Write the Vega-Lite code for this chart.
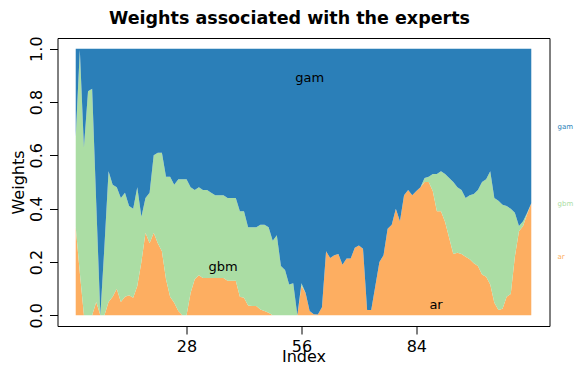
{
  "$schema": "https://vega.github.io/schema/vega-lite/v6.json",
  "width": 492,
  "height": 288,
  "autosize": {"type": "none"},
  "padding": {"left": 57.5, "top": 38, "right": 26.5, "bottom": 58},
  "config": {"view": {"stroke": "black", "strokeWidth": 1}, "font": "DejaVu Sans"},
  "title": {"text": "Weights associated with the experts", "fontSize": 17.5, "fontWeight": "bold", "font": "DejaVu Sans", "color": "black", "anchor": "middle", "frame": "group", "baseline": "bottom", "offset": 9, "dx": -14, "dy": 19},
  "datasets": {
    "w": [
      {"i":1,"ar":0.33,"gbm":0.34,"gam":0.33},
      {"i":2,"ar":0.16,"gbm":0.835,"gam":0.005},
      {"i":3,"ar":0,"gbm":0.63,"gam":0.37},
      {"i":4,"ar":0,"gbm":0.84,"gam":0.16},
      {"i":5,"ar":0,"gbm":0.85,"gam":0.15},
      {"i":6,"ar":0.05,"gbm":0.37,"gam":0.58},
      {"i":7,"ar":0,"gbm":0,"gam":1},
      {"i":8,"ar":0,"gbm":0.26,"gam":0.74},
      {"i":9,"ar":0.05,"gbm":0.49,"gam":0.46},
      {"i":10,"ar":0.07,"gbm":0.42,"gam":0.51},
      {"i":11,"ar":0.1,"gbm":0.38,"gam":0.52},
      {"i":12,"ar":0.05,"gbm":0.39,"gam":0.56},
      {"i":13,"ar":0.07,"gbm":0.39,"gam":0.54},
      {"i":14,"ar":0.075,"gbm":0.335,"gam":0.59},
      {"i":15,"ar":0.066,"gbm":0.334,"gam":0.6},
      {"i":16,"ar":0.11,"gbm":0.37,"gam":0.52},
      {"i":17,"ar":0.2,"gbm":0.17,"gam":0.63},
      {"i":18,"ar":0.31,"gbm":0.13,"gam":0.56},
      {"i":19,"ar":0.27,"gbm":0.19,"gam":0.54},
      {"i":20,"ar":0.31,"gbm":0.29,"gam":0.4},
      {"i":21,"ar":0.27,"gbm":0.34,"gam":0.39},
      {"i":22,"ar":0.24,"gbm":0.37,"gam":0.39},
      {"i":23,"ar":0.135,"gbm":0.385,"gam":0.48},
      {"i":24,"ar":0.07,"gbm":0.45,"gam":0.48},
      {"i":25,"ar":0.047,"gbm":0.443,"gam":0.51},
      {"i":26,"ar":0.016,"gbm":0.494,"gam":0.49},
      {"i":27,"ar":0,"gbm":0.51,"gam":0.49},
      {"i":28,"ar":0,"gbm":0.51,"gam":0.49},
      {"i":29,"ar":0.085,"gbm":0.395,"gam":0.52},
      {"i":30,"ar":0.135,"gbm":0.335,"gam":0.53},
      {"i":31,"ar":0.15,"gbm":0.33,"gam":0.52},
      {"i":32,"ar":0.14,"gbm":0.33,"gam":0.53},
      {"i":33,"ar":0.14,"gbm":0.33,"gam":0.53},
      {"i":34,"ar":0.14,"gbm":0.32,"gam":0.54},
      {"i":35,"ar":0.14,"gbm":0.31,"gam":0.55},
      {"i":36,"ar":0.14,"gbm":0.31,"gam":0.55},
      {"i":37,"ar":0.14,"gbm":0.31,"gam":0.55},
      {"i":38,"ar":0.13,"gbm":0.31,"gam":0.56},
      {"i":39,"ar":0.13,"gbm":0.31,"gam":0.56},
      {"i":40,"ar":0.13,"gbm":0.31,"gam":0.56},
      {"i":41,"ar":0.07,"gbm":0.32,"gam":0.61},
      {"i":42,"ar":0.066,"gbm":0.324,"gam":0.61},
      {"i":43,"ar":0.037,"gbm":0.293,"gam":0.67},
      {"i":44,"ar":0.035,"gbm":0.295,"gam":0.67},
      {"i":45,"ar":0.035,"gbm":0.295,"gam":0.67},
      {"i":46,"ar":0.022,"gbm":0.318,"gam":0.66},
      {"i":47,"ar":0.016,"gbm":0.324,"gam":0.66},
      {"i":48,"ar":0.01,"gbm":0.32,"gam":0.67},
      {"i":49,"ar":0,"gbm":0.28,"gam":0.72},
      {"i":50,"ar":0,"gbm":0.3,"gam":0.7},
      {"i":51,"ar":0,"gbm":0.185,"gam":0.815},
      {"i":52,"ar":0,"gbm":0.17,"gam":0.83},
      {"i":53,"ar":0,"gbm":0.116,"gam":0.884},
      {"i":54,"ar":0,"gbm":0.12,"gam":0.88},
      {"i":55,"ar":0,"gbm":0,"gam":1},
      {"i":56,"ar":0.11,"gbm":0.01,"gam":0.88},
      {"i":57,"ar":0.085,"gbm":0,"gam":0.915},
      {"i":58,"ar":0.016,"gbm":0,"gam":0.984},
      {"i":59,"ar":0.004,"gbm":0,"gam":0.996},
      {"i":60,"ar":0.003,"gbm":0,"gam":0.997},
      {"i":61,"ar":0.03,"gbm":0,"gam":0.97},
      {"i":62,"ar":0.24,"gbm":0,"gam":0.76},
      {"i":63,"ar":0.215,"gbm":0,"gam":0.785},
      {"i":64,"ar":0.225,"gbm":0,"gam":0.775},
      {"i":65,"ar":0.23,"gbm":0,"gam":0.77},
      {"i":66,"ar":0.19,"gbm":0,"gam":0.81},
      {"i":67,"ar":0.213,"gbm":0,"gam":0.787},
      {"i":68,"ar":0.213,"gbm":0,"gam":0.787},
      {"i":69,"ar":0.253,"gbm":0,"gam":0.747},
      {"i":70,"ar":0.262,"gbm":0,"gam":0.738},
      {"i":71,"ar":0.25,"gbm":0,"gam":0.75},
      {"i":72,"ar":0.02,"gbm":0,"gam":0.98},
      {"i":73,"ar":0.02,"gbm":0,"gam":0.98},
      {"i":74,"ar":0.11,"gbm":0,"gam":0.89},
      {"i":75,"ar":0.2,"gbm":0,"gam":0.8},
      {"i":76,"ar":0.225,"gbm":0,"gam":0.775},
      {"i":77,"ar":0.325,"gbm":0,"gam":0.675},
      {"i":78,"ar":0.34,"gbm":0,"gam":0.66},
      {"i":79,"ar":0.4,"gbm":0,"gam":0.6},
      {"i":80,"ar":0.353,"gbm":0,"gam":0.647},
      {"i":81,"ar":0.45,"gbm":0,"gam":0.55},
      {"i":82,"ar":0.47,"gbm":0,"gam":0.53},
      {"i":83,"ar":0.45,"gbm":0,"gam":0.55},
      {"i":84,"ar":0.466,"gbm":0,"gam":0.534},
      {"i":85,"ar":0.48,"gbm":0,"gam":0.52},
      {"i":86,"ar":0.5,"gbm":0.015,"gam":0.485},
      {"i":87,"ar":0.5,"gbm":0.02,"gam":0.48},
      {"i":88,"ar":0.466,"gbm":0.064,"gam":0.47},
      {"i":89,"ar":0.39,"gbm":0.14,"gam":0.47},
      {"i":90,"ar":0.39,"gbm":0.15,"gam":0.46},
      {"i":91,"ar":0.35,"gbm":0.18,"gam":0.47},
      {"i":92,"ar":0.29,"gbm":0.225,"gam":0.485},
      {"i":93,"ar":0.23,"gbm":0.27,"gam":0.5},
      {"i":94,"ar":0.235,"gbm":0.245,"gam":0.52},
      {"i":95,"ar":0.23,"gbm":0.24,"gam":0.53},
      {"i":96,"ar":0.22,"gbm":0.22,"gam":0.56},
      {"i":97,"ar":0.21,"gbm":0.24,"gam":0.55},
      {"i":98,"ar":0.195,"gbm":0.26,"gam":0.545},
      {"i":99,"ar":0.185,"gbm":0.285,"gam":0.53},
      {"i":100,"ar":0.153,"gbm":0.347,"gam":0.5},
      {"i":101,"ar":0.145,"gbm":0.365,"gam":0.49},
      {"i":102,"ar":0.116,"gbm":0.424,"gam":0.46},
      {"i":103,"ar":0.047,"gbm":0.393,"gam":0.56},
      {"i":104,"ar":0.02,"gbm":0.41,"gam":0.57},
      {"i":105,"ar":0.025,"gbm":0.39,"gam":0.585},
      {"i":106,"ar":0.07,"gbm":0.34,"gam":0.59},
      {"i":107,"ar":0.08,"gbm":0.32,"gam":0.6},
      {"i":108,"ar":0.22,"gbm":0.165,"gam":0.615},
      {"i":109,"ar":0.315,"gbm":0.02,"gam":0.665},
      {"i":110,"ar":0.335,"gbm":0.018,"gam":0.647},
      {"i":111,"ar":0.38,"gbm":0.005,"gam":0.615},
      {"i":112,"ar":0.42,"gbm":0,"gam":0.58}
    ],
    "ord": [
      {"expert": "ar", "rank": 1},
      {"expert": "gbm", "rank": 2},
      {"expert": "gam", "rank": 3}
    ],
    "inner": [
      {"expert": "gam", "i": 58.0, "w": 0.89},
      {"expert": "gbm", "i": 36.9, "w": 0.18},
      {"expert": "ar", "i": 88.8, "w": 0.037}
    ],
    "side": [
      {"expert": "gam", "i": 118.4, "w": 0.707},
      {"expert": "gbm", "i": 118.4, "w": 0.419},
      {"expert": "ar", "i": 118.4, "w": 0.217}
    ]
  },
  "encoding": {
    "x": {"field": "i", "type": "quantitative",
      "scale": {"domain": [-3.44, 116.44], "nice": false, "zero": false},
      "axis": {"values": [28, 56, 84], "domain": false, "grid": false, "tickSize": 8, "tickColor": "black",
        "labelFontSize": 16, "labelColor": "black", "labelBaseline": "alphabetic", "labelPadding": 17, "labelFlush": false, "labelOverlap": false,
        "title": "Index", "titleFontSize": 16, "titleFontWeight": "normal", "titleColor": "black", "titleY": 35, "titleBaseline": "alphabetic"}},
    "y": {"field": "w", "type": "quantitative",
      "scale": {"domain": [-0.04, 1.04], "nice": false, "zero": false},
      "axis": {"values": [0, 0.2, 0.4, 0.6, 0.8, 1], "format": ".1f", "domain": false, "grid": false, "tickSize": 8, "tickColor": "black",
        "labelAngle": 270, "labelAlign": "center", "labelBaseline": "alphabetic", "labelPadding": 8, "labelFontSize": 16, "labelColor": "black", "labelOverlap": false,
        "title": "Weights", "titleAngle": 270, "titleX": -34, "titleY": 144, "titleAlign": "center", "titleBaseline": "alphabetic", "titleFontSize": 16, "titleFontWeight": "normal", "titleColor": "black"}}
  },
  "layer": [
    {
      "data": {"name": "w"},
      "transform": [
        {"fold": ["ar", "gbm", "gam"], "as": ["expert", "w"]},
        {"lookup": "expert", "from": {"data": {"name": "ord"}, "key": "expert", "fields": ["rank"]}}
      ],
      "mark": {"type": "area", "interpolate": "linear"},
      "encoding": {
        "y": {"field": "w", "type": "quantitative", "stack": "zero"},
        "order": {"field": "rank", "type": "quantitative", "sort": "ascending"},
        "color": {"field": "expert", "type": "nominal",
          "scale": {"domain": ["ar", "gbm", "gam"], "range": ["#fdae61", "#abdda4", "#2b7fb8"]}, "legend": null}
      }
    },
    {
      "data": {"name": "w"},
      "mark": {"type": "line", "color": "black", "strokeWidth": 1.5},
      "encoding": {"y": {"datum": 1}}
    },
    {
      "data": {"name": "inner"},
      "mark": {"type": "text", "fontSize": 13, "color": "black", "align": "center", "baseline": "middle"},
      "encoding": {"text": {"field": "expert"}}
    },
    {
      "data": {"name": "side"},
      "mark": {"type": "text", "fontSize": 7, "align": "left", "baseline": "middle"},
      "encoding": {"text": {"field": "expert"},
        "color": {"field": "expert", "type": "nominal", "scale": {"domain": ["ar", "gbm", "gam"], "range": ["#fdae61", "#abdda4", "#2b7fb8"]}, "legend": null}}
    }
  ]
}
